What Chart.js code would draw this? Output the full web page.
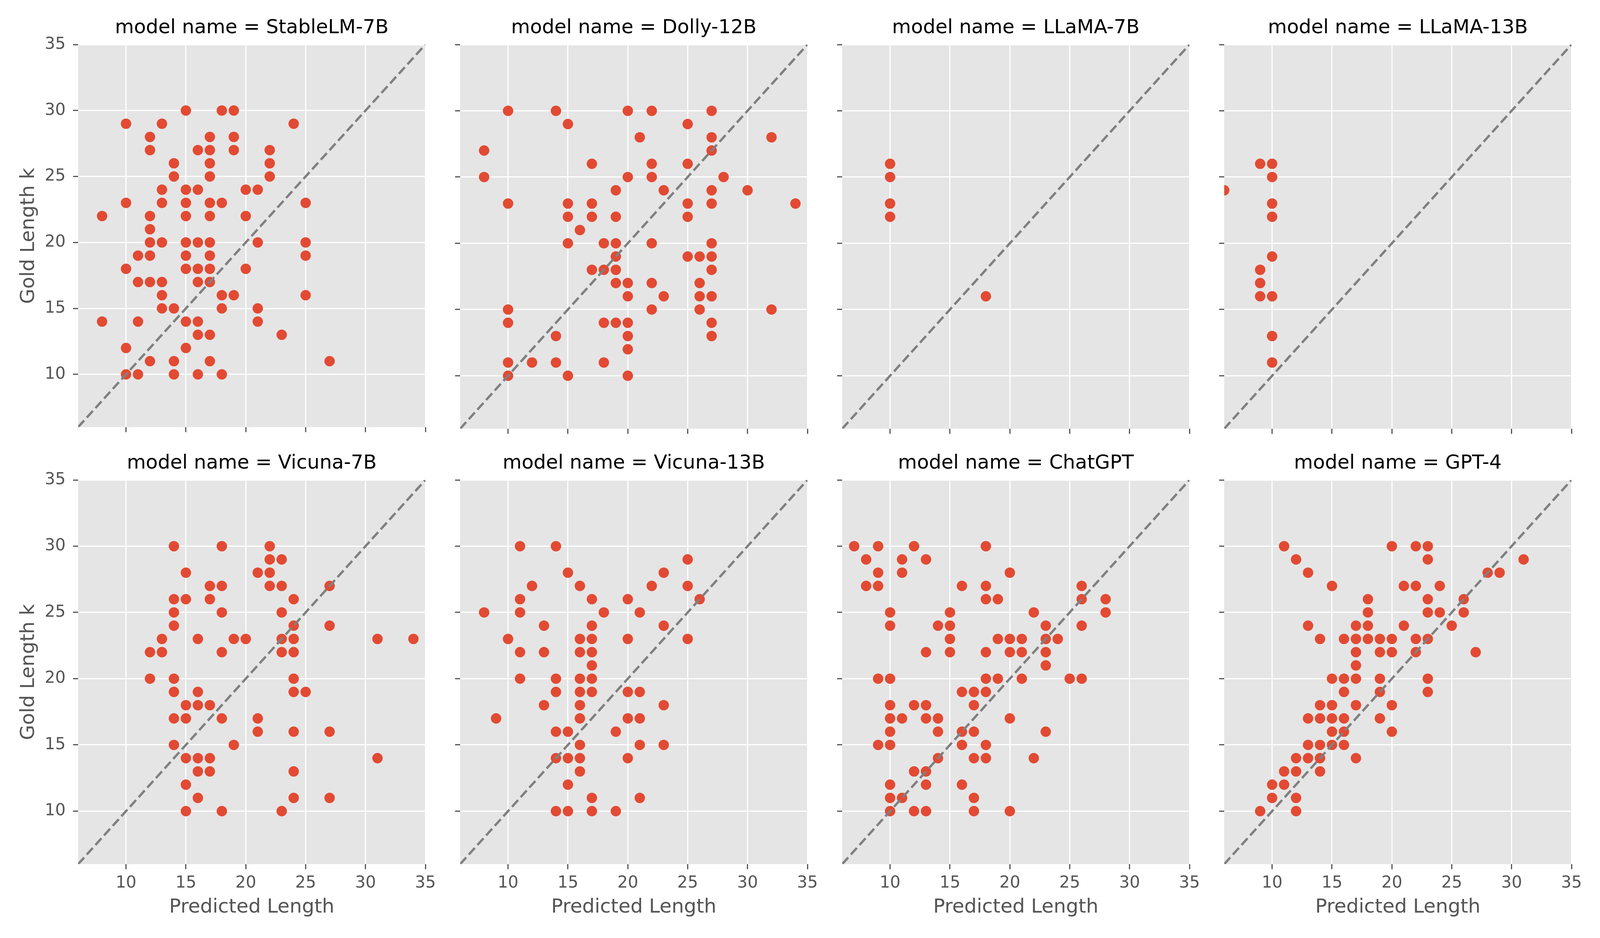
<!DOCTYPE html>
<html>
<head>
<meta charset="utf-8">
<script src="https://cdn.jsdelivr.net/npm/chart.js@4.4.1/dist/chart.umd.min.js"></script>
<style>
html,body{margin:0;padding:0;background:#ffffff;overflow:hidden;}
#wrap{position:relative;overflow:hidden;background:#ffffff;}
#wrap canvas{position:absolute;}
</style>
</head>
<body>
<div id="wrap"></div>
<script>
// ---------------- data ----------------
const modelNames = ['StableLM-7B','Dolly-12B','LLaMA-7B','LLaMA-13B','Vicuna-7B','Vicuna-13B','ChatGPT','GPT-4'];

// [predicted length, gold length k]
const stablelmPoints = [[8,22],[8,14],[10,29],[10,23],[10,18],[10,12],[10,10],[11,19],[11,17],[11,14],[11,10],
 [12,28],[12,27],[12,22],[12,21],[12,20],[12,19],[12,17],[12,11],[13,29],[13,24],[13,23],[13,20],[13,17],[13,16],[13,15],
 [14,26],[14,25],[14,15],[14,11],[14,10],[15,30],[15,24],[15,23],[15,22],[15,20],[15,19],[15,18],[15,14],[15,12],
 [16,27],[16,24],[16,20],[16,18],[16,17],[16,14],[16,13],[16,10],[17,28],[17,27],[17,26],[17,25],[17,23],[17,22],[17,20],
 [17,19],[17,18],[17,17],[17,13],[17,11],[18,30],[18,23],[18,16],[18,15],[18,10],[19,30],[19,28],[19,27],[19,16],
 [20,24],[20,22],[20,18],[21,24],[21,20],[21,15],[21,14],[22,27],[22,26],[22,25],[23,13],[24,29],[25,23],[25,20],[25,19],[25,16],[27,11]];

const dollyPoints = [[8,27],[8,25],[10,30],[10,23],[10,15],[10,14],[10,11],[10,10],[12,11],[14,30],[14,13],[14,11],
 [15,29],[15,23],[15,22],[15,20],[15,10],[16,21],[17,26],[17,23],[17,22],[17,18],[18,20],[18,18],[18,14],[18,11],
 [19,24],[19,22],[19,20],[19,19],[19,18],[19,17],[19,14],[20,30],[20,25],[20,17],[20,16],[20,14],[20,13],[20,12],[20,10],
 [21,28],[22,30],[22,26],[22,25],[22,20],[22,17],[22,15],[23,24],[23,16],[25,29],[25,26],[25,23],[25,22],[25,19],
 [26,19],[26,17],[26,16],[26,15],[27,30],[27,28],[27,27],[27,24],[27,23],[27,20],[27,19],[27,18],[27,16],[27,14],[27,13],
 [28,25],[30,24],[32,28],[32,15],[34,23]];

const llama7Points = [[10,26],[10,25],[10,23],[10,22],[18,16]];

const llama13Points = [[6,24],[9,26],[9,18],[9,17],[9,16],[10,26],[10,25],[10,23],[10,22],[10,19],[10,16],[10,13],[10,11]];

const vicuna7Points = [[12,22],[12,20],[13,23],[13,22],[14,30],[14,26],[14,25],[14,24],[14,20],[14,19],[14,17],[14,15],
 [15,28],[15,26],[15,18],[15,17],[15,14],[15,12],[15,10],[16,23],[16,19],[16,18],[16,14],[16,13],[16,11],
 [17,27],[17,26],[17,18],[17,14],[17,13],[18,30],[18,27],[18,25],[18,22],[18,17],[18,10],[19,23],[19,15],[20,23],
 [21,28],[21,17],[21,16],[22,30],[22,29],[22,28],[22,27],[23,29],[23,27],[23,25],[23,23],[23,22],[23,10],
 [24,26],[24,24],[24,23],[24,22],[24,20],[24,19],[24,16],[24,13],[24,11],[25,19],[27,27],[27,24],[27,16],[27,11],
 [31,23],[31,14],[34,23]];

const vicuna13Points = [[8,25],[9,17],[10,23],[11,30],[11,26],[11,25],[11,22],[11,20],[12,27],[13,24],[13,22],[13,18],
 [14,30],[14,20],[14,19],[14,16],[14,14],[14,10],[15,28],[15,16],[15,14],[15,12],[15,10],
 [16,27],[16,23],[16,22],[16,20],[16,19],[16,18],[16,17],[16,15],[16,14],[16,13],
 [17,26],[17,24],[17,23],[17,22],[17,21],[17,20],[17,19],[17,11],[17,10],[18,25],[19,16],[19,10],
 [20,26],[20,23],[20,19],[20,17],[20,14],[21,25],[21,19],[21,17],[21,15],[21,11],[22,27],
 [23,28],[23,24],[23,18],[23,15],[25,29],[25,27],[25,23],[26,26]];

const chatgptPoints = [[7,30],[8,29],[8,27],[9,30],[9,28],[9,27],[9,20],[9,15],
 [10,25],[10,24],[10,20],[10,18],[10,17],[10,16],[10,15],[10,12],[10,11],[10,10],
 [11,29],[11,28],[11,17],[11,11],[12,30],[12,18],[12,13],[12,10],[13,29],[13,22],[13,18],[13,17],[13,13],[13,12],[13,10],
 [14,24],[14,17],[14,16],[14,14],[15,25],[15,24],[15,23],[15,22],[16,27],[16,19],[16,16],[16,15],[16,12],
 [17,19],[17,18],[17,16],[17,14],[17,11],[17,10],[18,30],[18,27],[18,26],[18,22],[18,20],[18,19],[18,15],[18,14],
 [19,26],[19,23],[19,20],[20,28],[20,23],[20,22],[20,17],[20,10],[21,23],[21,22],[21,20],[22,25],[22,14],
 [23,24],[23,23],[23,22],[23,21],[23,16],[24,23],[25,20],[26,27],[26,26],[26,24],[26,20],[28,26],[28,25]];

const gpt4Points = [[9,10],[10,12],[10,11],[11,30],[11,13],[11,12],[12,29],[12,14],[12,13],[12,11],[12,10],
 [13,28],[13,24],[13,17],[13,15],[13,14],[14,23],[14,18],[14,17],[14,15],[14,14],[14,13],
 [15,27],[15,20],[15,18],[15,17],[15,16],[15,15],[16,23],[16,20],[16,19],[16,17],[16,16],[16,15],
 [17,24],[17,23],[17,22],[17,21],[17,20],[17,18],[17,14],[18,26],[18,25],[18,24],[18,23],
 [19,23],[19,22],[19,20],[19,19],[19,17],[20,30],[20,23],[20,22],[20,18],[20,16],[21,27],[21,24],
 [22,30],[22,27],[22,23],[22,22],[23,30],[23,29],[23,26],[23,25],[23,23],[23,20],[23,19],
 [24,27],[24,25],[25,24],[26,26],[26,25],[27,22],[28,28],[29,28],[31,29]];

const tickValues = [10,15,20,25,30,35];
const axisRange = [6,35];
const xAxisLabel = 'Predicted Length';
const yAxisLabel = 'Gold Length k';
const titlePrefix = 'model name = ';

// ---------------- layout / style ----------------
const panelPoints = [stablelmPoints,dollyPoints,llama7Points,llama13Points,vicuna7Points,vicuna13Points,chatgptPoints,gpt4Points];
const pageW = window.innerWidth || 4800;
const pageH = window.innerHeight || 2400;
const sy = pageH / 2400;
const marginL = 200, marginR = 73, gapX = 89;
const plotW = Math.floor((pageW - marginL - marginR - 3*gapX) / 4);
const colLeft = [0,1,2,3].map(c => marginL + c*(plotW + gapX));
const rowTop = [114,1228].map(v => Math.round(v*sy));
const plotH = Math.round(983*sy);
const FONT = "'DejaVu Sans', 'Liberation Sans', sans-serif";
Chart.defaults.font.family = FONT;

const wrap = document.getElementById('wrap');
wrap.style.width = pageW + 'px';
wrap.style.height = pageH + 'px';

const panelBg = {
  id:'panelBg',
  beforeDraw(chart){
    const a = chart.chartArea, ctx = chart.ctx;
    ctx.save();
    ctx.fillStyle = '#E5E5E5';
    ctx.fillRect(a.left, a.top, a.right-a.left, a.bottom-a.top);
    ctx.restore();
  }
};

panelPoints.forEach((pts, i) => {
  const row = Math.floor(i/4), col = i%4;
  const LW = col === 0 ? marginL : 60;
  const RW = 40;
  const TH = 110;
  const BH = row === 1 ? (pageH - rowTop[1] - plotH) : 40;
  const cv = document.createElement('canvas');
  const w = plotW + LW + RW, h = plotH + TH + BH;
  cv.width = w; cv.height = h;
  cv.style.width = w+'px'; cv.style.height = h+'px';
  cv.style.left = (colLeft[col]-LW)+'px';
  cv.style.top = (rowTop[row]-TH)+'px';
  wrap.appendChild(cv);

  const setTicks = s => { s.ticks = tickValues.map(v => ({value:v})); };

  new Chart(cv.getContext('2d'), {
    type:'scatter',
    data:{
      datasets:[
        {
          data: axisRange.map(v => ({x:v, y:v})),
          showLine:true,
          borderColor:'#808080',
          borderWidth:6,
          borderDash:[23,10],
          pointRadius:0,
          pointHoverRadius:0,
          fill:false,
          order:0,
          clip:0
        },
        {
          data: pts.map(p => ({x:p[0], y:p[1]})),
          backgroundColor:'#E24A33',
          borderColor:'#E24A33',
          borderWidth:0,
          pointRadius:13.3,
          pointHoverRadius:13.3,
          order:1,
          clip:0
        }
      ]
    },
    options:{
      responsive:false,
      animation:false,
      devicePixelRatio:1,
      events:[],
      layout:{padding:{left:0, top:0, right:RW, bottom:0}},
      plugins:{
        legend:{display:false},
        tooltip:{enabled:false},
        title:{
          display:true,
          text: titlePrefix + modelNames[i],
          fullSize:false,
          color:'#000000',
          font:{size:50, weight:'normal', family:FONT},
          padding:{top:38, bottom:12}
        }
      },
      scales:{
        x:{
          type:'linear', position:'bottom',
          min:axisRange[0], max:axisRange[1],
          afterBuildTicks:setTicks,
          afterFit:s => { s.height = BH; },
          border:{display:false},
          grid:{color:'#FFFFFF', lineWidth:3, drawTicks:true, tickLength:13, tickColor:'#555555', tickWidth:3},
          ticks:{display: row === 1, color:'#555555', font:{size:42, family:FONT}, padding:11, maxRotation:0, minRotation:0, autoSkip:false},
          title:{display: row === 1, text:xAxisLabel, color:'#555555', font:{size:50, family:FONT}, padding:{top:0, bottom:48}}
        },
        y:{
          type:'linear', position:'left',
          min:axisRange[0], max:axisRange[1],
          afterBuildTicks:setTicks,
          afterFit:s => { s.width = LW; },
          border:{display:false},
          grid:{color:'#FFFFFF', lineWidth:3, drawTicks:true, tickLength:13, tickColor:'#555555', tickWidth:3},
          ticks:{display: col === 0, color:'#555555', font:{size:42, family:FONT}, padding:19, autoSkip:false},
          title:{display: col === 0, text:yAxisLabel, color:'#555555', font:{size:50, family:FONT}, padding:{top:44, bottom:0}}
        }
      }
    },
    plugins:[panelBg]
  });
});
</script>
</body>
</html>
